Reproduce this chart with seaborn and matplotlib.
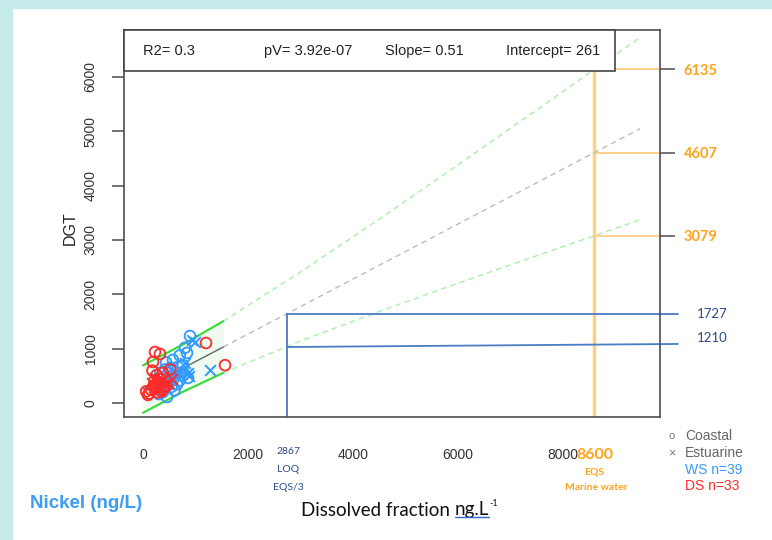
import matplotlib
matplotlib.use("Agg")
import matplotlib.pyplot as plt
import seaborn as sns
import pandas as pd
from matplotlib.patches import Rectangle
from matplotlib.lines import Line2D

sns.set_theme(style="white")
plt.rcParams['font.family'] = ['Liberation Sans', 'DejaVu Sans']

# ---------------- data ----------------
ws_coastal_x = [895, 838, 800, 571, 440, 667, 762, 857, 514, 457, 381, 300, 620, 700, 480,
                540, 350, 420, 600, 760, 650, 520, 280, 400, 580, 700, 330]
ws_coastal_y = [1236, 925, 1020, 797, 750, 669, 577, 466, 392, 116, 208, 170, 500, 420, 560,
                300, 450, 620, 240, 700, 350, 650, 400, 300, 450, 880, 560]
ws_estuarine_x = [990, 1276, 800, 857, 933, 650, 720, 560, 480, 600, 380, 880]
ws_estuarine_y = [1126, 612, 742, 558, 1165, 480, 600, 420, 350, 560, 300, 500]
ds_coastal_x = [229, 324, 190, 1200, 1562, 95, 60, 150, 200, 250, 300, 330, 220, 180, 380,
                450, 120, 280, 520, 400, 350, 260]
ds_coastal_y = [942, 906, 759, 1108, 700, 153, 220, 250, 320, 290, 380, 450, 420, 600, 560,
                320, 180, 200, 620, 280, 220, 520]
ds_estuarine_x = [200, 260, 310, 350, 420, 240, 170, 300, 480, 560, 230]
ds_estuarine_y = [300, 360, 310, 400, 350, 250, 380, 260, 380, 450, 470]

# regression line and prediction band
fit_x = [0, 750, 1530]
fit_center = [261, 640, 1034]
fit_upper = [697, 1075, 1509]
fit_lower = [-175, 206, 559]
ext_x = [1530, 3000, 4500, 6000, 7500, 8600, 9000, 9470]
ext_center = [1034, 1777, 2535, 3293, 4051, 4607, 4809, 5046]
ext_upper = [1509, 2410, 3384, 4381, 5390, 6135, 6404, 6721]
ext_lower = [559, 1144, 1686, 2205, 2712, 3079, 3214, 3371]

eqs_x = 8600
eqs_levels = [6135, 4607, 3079]
eqs_labels = ["6135", "4607", "3079"]
loq_x = 2743
loq_line_left_y = [1641, 1034]
loq_line_right_y = [1641, 1090]
loq_line_end_x = 10190
loq_labels = ["1727", "1210"]
loq_label_y = [1641, 1201]

stats_labels = ["R2= 0.3", "pV= 3.92e-07", "Slope= 0.51", "Intercept= 261"]
xticks = [0, 2000, 4000, 6000, 8000]
yticks = [0, 1000, 2000, 3000, 4000, 5000, 6000]

rows = []
for xs, ys, season, site in [(ws_coastal_x, ws_coastal_y, "WS", "Coastal"),
                             (ws_estuarine_x, ws_estuarine_y, "WS", "Estuarine"),
                             (ds_coastal_x, ds_coastal_y, "DS", "Coastal"),
                             (ds_estuarine_x, ds_estuarine_y, "DS", "Estuarine")]:
    rows += [dict(x=a, y=b, season=season, site=site) for a, b in zip(xs, ys)]
df = pd.DataFrame(rows)

# ---------------- figure ----------------
W, H = 772, 540
def fx(px): return px / W
def fy(py): return 1 - py / H

fig = plt.figure(figsize=(7.72, 5.4), dpi=100)
fig.patches.append(Rectangle((0, 0), 12 / W, 1, transform=fig.transFigure,
                             color="#C4EAEA", zorder=0))
fig.patches.append(Rectangle((0, 1 - 8 / H), 1, 8 / H, transform=fig.transFigure,
                             color="#C4EAEA", zorder=0))

ax = fig.add_axes([fx(124), fy(417), (660 - 124) / W, (417 - 30) / H])

BLUE = "#3399FF"
RED = "#FF2B2B"
ORANGE = "#FFA31A"
DKBLUE = "#2B4A8B"
LINEBLUE = "#4A7CC4"

# band fill & lines
ax.fill_between(fit_x, fit_lower, fit_upper, color="#EEFBEE", zorder=1, lw=0)
ax.plot(ext_x, ext_upper, color="#A8F0A8", lw=1, ls=(0, (4, 3)), zorder=2)
ax.plot(ext_x, ext_lower, color="#A8F0A8", lw=1, ls=(0, (4, 3)), zorder=2)
ax.plot(ext_x, ext_center, color="#BDBDBD", lw=1, ls=(0, (4, 3)), zorder=2)
ax.plot(fit_x, fit_upper, color="#33DD33", lw=1.5, zorder=2)
ax.plot(fit_x, fit_lower, color="#33DD33", lw=1.5, zorder=2)
ax.plot(fit_x, fit_center, color="#666666", lw=1, zorder=2)

# EQS orange lines
ax.plot([eqs_x, eqs_x], [-252, eqs_levels[0]], color="#FFCF85", lw=2.5, zorder=1.5)
for lv in eqs_levels:
    ax.plot([eqs_x, 9848], [lv, lv], color="#FFC878", lw=1.2, zorder=1.5)

# LOQ blue lines
ax.plot([loq_x, loq_x], [-252, loq_line_left_y[0]], color=LINEBLUE, lw=1.3, zorder=2)
for yl, yr in zip(loq_line_left_y, loq_line_right_y):
    ax.plot([loq_x, loq_line_end_x], [yl, yr], color=LINEBLUE, lw=1.3, zorder=2,
            clip_on=False)
for lab, yv in zip(loq_labels, loq_label_y):
    ax.text(10552, yv, lab, color=DKBLUE, fontsize=9.5, family=["Lato", "DejaVu Sans"],
            ha="left", va="center", clip_on=False)

# points
for season, col in [("WS", BLUE), ("DS", RED)]:
    sub = df[(df.season == season) & (df.site == "Coastal")]
    sns.scatterplot(data=sub, x="x", y="y", marker="o", s=60, color=col,
                    facecolor="none", edgecolor=col, linewidth=1.3, ax=ax, zorder=5)
    sub = df[(df.season == season) & (df.site == "Estuarine")]
    sns.scatterplot(data=sub, x="x", y="y", marker="x", s=60, color=col,
                    linewidth=1.4, ax=ax, zorder=5)

ax.set_xlabel("")
ax.set_ylabel("")
ax.set_xlim(-362, 9848)
ax.set_ylim(-252, 6858)

for s in ax.spines.values():
    s.set_color("#4d4d4d")
    s.set_linewidth(1.2)
    s.set_visible(True)

ax.set_xticks(xticks + [eqs_x])
ax.set_xticklabels([str(v) for v in xticks] + [str(eqs_x)])
ax.tick_params(axis="x", direction="out", length=10, width=1.1, color="#4d4d4d",
               pad=12, labelsize=10, labelcolor="#333333")
lab8600 = ax.get_xticklabels()[-1]
lab8600.set_color(ORANGE)
lab8600.set_fontweight("bold")
lab8600.set_fontsize(11.5)
lab8600.set_family(["Lato", "DejaVu Sans"])

ax.set_yticks(yticks)
ax.set_yticklabels([str(v) for v in yticks])
ax.tick_params(axis="y", direction="out", length=9, width=1.1, color="#4d4d4d",
               pad=10, labelsize=10, labelcolor="#333333", labelrotation=90)
for lab in ax.get_yticklabels():
    lab.set_va("center")

# right axis with EQS levels
tw = ax.twinx()
tw.set_ylim(ax.get_ylim())
tw.set_yticks(eqs_levels)
tw.set_yticklabels(eqs_labels)
tw.tick_params(axis="y", direction="out", length=11, width=1.1, color="#4d4d4d",
               pad=6, labelsize=10.5, labelcolor=ORANGE)
for lab in tw.get_yticklabels():
    lab.set_fontweight("bold")
    lab.set_family(["Lato", "DejaVu Sans"])
for s in tw.spines.values():
    s.set_visible(False)
tw.grid(False)

# stats box
box = Rectangle((0, (417 - 71) / 387), (615 - 124) / 536, 1 - (417 - 71) / 387,
                transform=ax.transAxes, facecolor="white", edgecolor="#444444",
                lw=1.2, zorder=10, clip_on=False)
ax.add_patch(box)
for lab, px in zip(stats_labels, [143, 264, 385, 506]):
    ax.text((px - 124) / 536, (417 - 51) / 387, lab, transform=ax.transAxes,
            fontsize=10.5, color="#222222", ha="left", va="center", zorder=11)

# labels
fig.text(fx(70), fy(228), "DGT", rotation=90, ha="center", va="center",
         fontsize=11.5, color="#222222")
fig.text(fx(30), fy(503), "Nickel (ng/L)", ha="left", va="center", fontsize=13.5,
         fontweight="bold", color="#3D9CF5")

CAL = ["Lato", "DejaVu Sans"]
t1 = fig.text(fx(301), fy(510), "Dissolved fraction ", ha="left", va="center",
              fontsize=13.5, family=CAL, color="#111111")
t2 = ax.annotate("ng.L", xy=(1, 0), xycoords=t1, ha="left", va="bottom",
                 fontsize=13.5, family=CAL, color="#111111", annotation_clip=False)
t3 = ax.annotate("-1", xy=(1, 0.62), xycoords=t2, ha="left", va="bottom",
                 fontsize=6.5, family=CAL, color="#111111", annotation_clip=False)

# LOQ annotation under x axis
for txt, py in zip(["2867", "LOQ", "EQS/3"], [451, 470, 488]):
    fig.text(fx(288), fy(py), txt, ha="center", va="center", fontsize=7.5,
             family=CAL, color=DKBLUE)
# EQS annotation
fig.text(fx(594), fy(472), "EQS", ha="center", va="center", fontsize=7.5,
         family=CAL, fontweight="bold", color=ORANGE)
fig.text(fx(596), fy(487), "Marine water", ha="center", va="center", fontsize=7.5,
         family=CAL, fontweight="bold", color=ORANGE)

# custom legend
fig.text(fx(672), fy(436), "o", ha="center", va="center", fontsize=8, color="#777777")
fig.text(fx(685), fy(436), "Coastal", ha="left", va="center", fontsize=10, color="#666666")
fig.text(fx(672), fy(453), "\u00d7", ha="center", va="center", fontsize=9, color="#777777")
fig.text(fx(685), fy(453), "Estuarine", ha="left", va="center", fontsize=10, color="#666666")
fig.text(fx(685), fy(470), "WS n=39", ha="left", va="center", fontsize=10, color=BLUE)
fig.text(fx(685), fy(486), "DS n=33", ha="left", va="center", fontsize=10, color=RED)

# underline under "ng.L"
fig.canvas.draw()
bb = t2.get_window_extent()
uy = bb.y0 + 0.1 * bb.height
fig.add_artist(Line2D([bb.x0 / fig.bbox.width, bb.x1 / fig.bbox.width],
                      [uy / fig.bbox.height, uy / fig.bbox.height],
                      transform=fig.transFigure, color="#3366CC", lw=1))

fig.savefig("out.png", dpi=100)
